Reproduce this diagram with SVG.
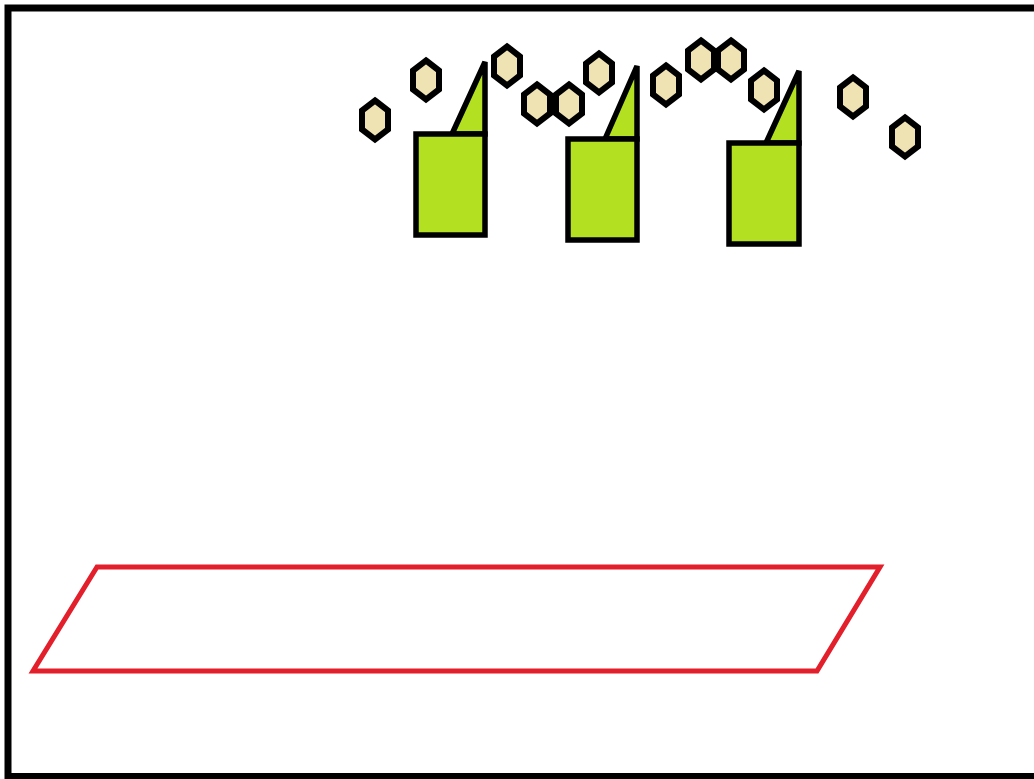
<svg xmlns="http://www.w3.org/2000/svg" width="1034" height="779" viewBox="0 0 1034 779">
<style>
.frame{fill:#fff;stroke:#000;stroke-width:7}
.bld{fill:#b3e021;stroke:#000;stroke-width:5.5;stroke-linejoin:miter}
.hex{fill:#efe2b3;stroke:#000;stroke-width:6;stroke-linejoin:miter}
.plat{fill:none;stroke:#e21f2b;stroke-width:5;stroke-linejoin:miter}
</style>
<defs>
<polygon id="h" points="0,-19.5 13,-9.5 13,9.5 0,19.5 -13,9.5 -13,-9.5"/>
</defs>
<rect class="frame" x="8" y="8" width="1040" height="768.5"/>
<g id="platform"><polygon class="plat" points="97,567 880,567 817,671 33,671"/></g>
<g id="building1">
<polygon class="bld" points="452,134 485,62 485,134"/>
<rect class="bld" x="416" y="134" width="69" height="101"/>
</g>
<g id="building2">
<polygon class="bld" points="605,139 637,66 637,139"/>
<rect class="bld" x="568" y="139" width="69" height="101"/>
</g>
<g id="building3">
<polygon class="bld" points="766,143 799,71 799,143"/>
<rect class="bld" x="729" y="143" width="70" height="101"/>
</g>
<g id="particles">
<use href="#h" class="hex" x="375" y="120"/>
<use href="#h" class="hex" x="426" y="80"/>
<use href="#h" class="hex" x="507" y="66"/>
<use href="#h" class="hex" x="537" y="104"/>
<use href="#h" class="hex" x="569" y="104"/>
<use href="#h" class="hex" x="599" y="73"/>
<use href="#h" class="hex" x="666" y="85"/>
<use href="#h" class="hex" x="701" y="60"/>
<use href="#h" class="hex" x="731" y="60"/>
<use href="#h" class="hex" x="764" y="90"/>
<use href="#h" class="hex" x="853" y="97"/>
<use href="#h" class="hex" x="905" y="137"/>
</g>
</svg>
